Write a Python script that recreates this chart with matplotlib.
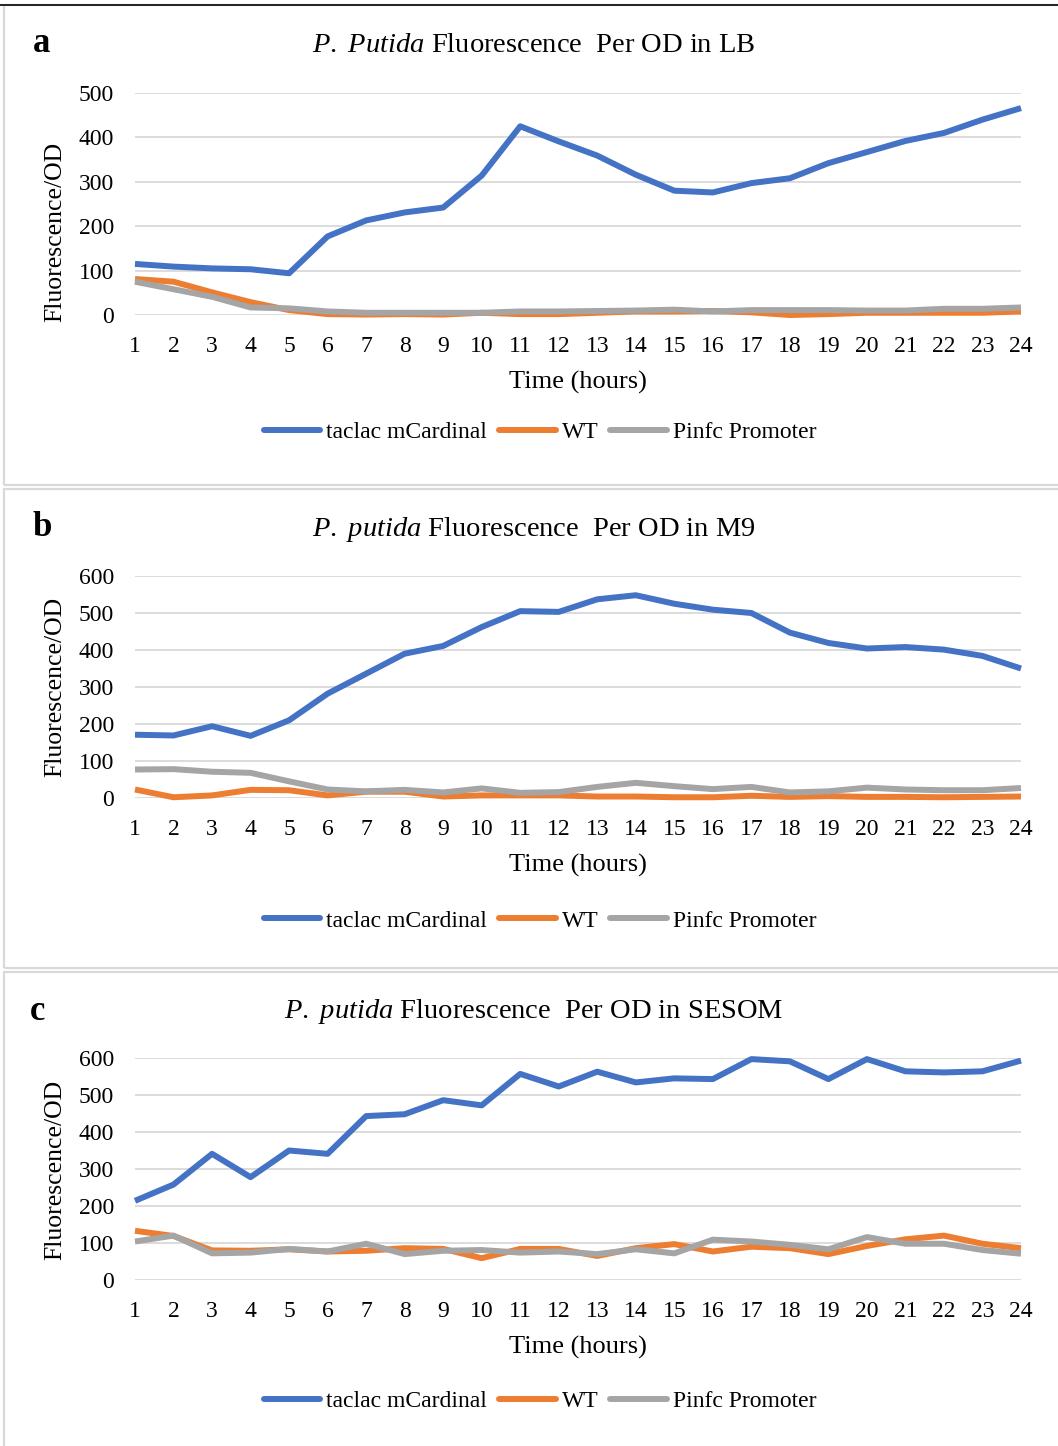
import matplotlib
matplotlib.use("Agg")
import matplotlib.pyplot as plt
from matplotlib.patches import Rectangle
from matplotlib.lines import Line2D

plt.rcParams['font.family'] = ['Liberation Serif', 'DejaVu Serif']
plt.rcParams['mathtext.fontset'] = 'custom'
plt.rcParams['mathtext.rm'] = 'Liberation Serif'
plt.rcParams['mathtext.it'] = 'Liberation Serif:italic'

hours = list(range(1, 25))
series_names = ['taclac mCardinal', 'WT', 'Pinfc Promoter']
colors = ['#4472C4', '#ED7D31', '#A5A5A5']

# LB medium
lb_taclac = [115, 109, 105, 103, 94, 177, 213, 231, 242, 314, 425, 391,
             359, 316, 280, 276, 297, 308, 342, 367, 392, 410, 440, 466]
lb_wt = [81, 75, 51, 29, 11, 2, 1, 2, 1, 5, 2, 2,
         5, 8, 8, 9, 6, 0, 2, 5, 5, 5, 5, 8]
lb_pinfc = [75, 58, 41, 17, 15, 8, 5, 5, 5, 5, 8, 8,
            9, 10, 12, 8, 11, 11, 11, 10, 10, 14, 14, 17]

# M9 medium
m9_taclac = [171, 169, 194, 168, 210, 282, 336, 390, 411, 462, 505, 503,
             537, 548, 525, 509, 500, 447, 419, 404, 408, 401, 384, 350]
m9_wt = [23, 2, 7, 22, 21, 7, 17, 17, 4, 7, 7, 7,
         4, 4, 2, 2, 6, 3, 5, 3, 3, 2, 3, 4]
m9_pinfc = [77, 78, 71, 68, 45, 23, 18, 22, 15, 26, 14, 16,
            30, 41, 32, 24, 30, 15, 18, 28, 23, 21, 21, 27]

# SESOM medium
sesom_taclac = [214, 258, 341, 278, 350, 341, 443, 448, 486, 472, 557, 523,
                563, 534, 545, 543, 597, 591, 543, 597, 564, 561, 564, 593]
sesom_wt = [133, 119, 80, 79, 83, 77, 79, 86, 84, 59, 84, 84,
            65, 86, 97, 77, 90, 86, 70, 92, 110, 120, 98, 86]
sesom_pinfc = [104, 120, 72, 74, 84, 77, 98, 70, 79, 81, 74, 77,
               70, 83, 72, 109, 104, 95, 83, 116, 98, 98, 81, 71]

panels = [
    ('a', r'$\it{P.}$ $\it{Putida}$ Fluorescence  Per OD in LB',
     [lb_taclac, lb_wt, lb_pinfc], 500, 100),
    ('b', r'$\it{P.}$ $\it{putida}$ Fluorescence  Per OD in M9',
     [m9_taclac, m9_wt, m9_pinfc], 600, 100),
    ('c', r'$\it{P.}$ $\it{putida}$ Fluorescence  Per OD in SESOM',
     [sesom_taclac, sesom_wt, sesom_pinfc], 600, 100),
]

W, H = 1058, 1446
fig = plt.figure(figsize=(W / 100, H / 100), dpi=100)


def fx(px):
    return px / W


def fy(py):
    return 1 - py / H


# panel frames (pixel rows: top, bottom)
frames = [(5, 485), (489, 968), (972, 1450)]
for top, bot in frames:
    fig.add_artist(Rectangle((fx(4), fy(bot)), fx(1080), (bot - top) / H,
                             transform=fig.transFigure, fill=False,
                             edgecolor='#d9d9d9', linewidth=1.6))
fig.add_artist(Line2D([0, 1], [fy(5), fy(5)], transform=fig.transFigure,
                      color='#222222', linewidth=1.4))

# plot-area pixel layout for each panel
ax_tops = [93, 576, 1058]
ax_h = 222
title_y = [46, 530, 1012]
letter_xy = [(42, 44), (42, 528), (38, 1012)]
legend_y = [432, 921, 1401]
ylabel_y = [232, 687, 1170]

for i, (letter, title, data, ymax, step) in enumerate(panels):
    top = ax_tops[i]
    ax = fig.add_axes([fx(135), fy(top + ax_h), fx(1021) - fx(135), ax_h / H])
    for vals, name, c in zip(data, series_names, colors):
        ax.plot(hours, vals, color=c, linewidth=4.3, label=name,
                solid_joinstyle='round', solid_capstyle='butt', clip_on=False)
    ax.set_xlim(1, 24)
    ax.set_ylim(0, ymax)
    ax.set_yticks(range(0, ymax + 1, step))
    ax.set_xticks(hours)
    ax.grid(axis='y', color='#d9d9d9', linewidth=1.3)
    ax.set_axisbelow(True)
    for s in ax.spines.values():
        s.set_visible(False)
    ax.tick_params(length=0, labelsize=17, colors='black')
    ax.tick_params(axis='y', pad=15)
    ax.tick_params(axis='x', pad=15)
    ax.set_xlabel('Time (hours)', fontsize=19, labelpad=10)

    fig.text(fx(55), fy(ylabel_y[i]), 'Fluorescence/OD', rotation=90,
             ha='center', va='center', fontsize=18.5)
    fig.text(fx(534), fy(title_y[i]), title, ha='center', va='center',
             fontsize=20.5)
    fig.text(fx(letter_xy[i][0]), fy(letter_xy[i][1]), letter, ha='center',
             va='center', fontsize=25, fontweight='bold')

    handles = [Line2D([], [], color=c, linewidth=4.3, solid_capstyle='round')
               for c in colors]
    fig.legend(handles, series_names, loc='center',
               bbox_to_anchor=(fx(540), fy(legend_y[i])), ncol=3,
               frameon=False, fontsize=17, handlelength=2.4,
               handletextpad=0.25, columnspacing=0.5)

fig.savefig('out.png', dpi=100)
